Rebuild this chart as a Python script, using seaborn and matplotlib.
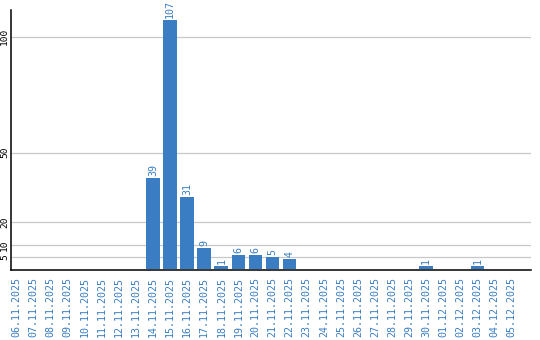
import matplotlib
matplotlib.use("Agg")
import matplotlib.pyplot as plt
import seaborn as sns
import pandas as pd

dates = ["06.11.2025", "07.11.2025", "08.11.2025", "09.11.2025", "10.11.2025",
         "11.11.2025", "12.11.2025", "13.11.2025", "14.11.2025", "15.11.2025",
         "16.11.2025", "17.11.2025", "18.11.2025", "19.11.2025", "20.11.2025",
         "21.11.2025", "22.11.2025", "23.11.2025", "24.11.2025", "25.11.2025",
         "26.11.2025", "27.11.2025", "28.11.2025", "29.11.2025", "30.11.2025",
         "01.12.2025", "02.12.2025", "03.12.2025", "04.12.2025", "05.12.2025"]
counts = [0, 0, 0, 0, 0, 0, 0, 0, 39, 107,
          31, 9, 1, 6, 6, 5, 4, 0, 0, 0,
          0, 0, 0, 0, 1, 0, 0, 1, 0, 0]
yticks = [5, 10, 20, 50, 100]

BLUE = "#3a7dc2"

sns.set_theme(style="white")
plt.rcParams['font.family'] = ['DejaVu Sans Mono', 'DejaVu Sans']

df = pd.DataFrame({"date": dates, "count": counts})

fig = plt.figure(figsize=(5.4, 3.4), dpi=100)
ax = fig.add_axes([11/540, 70/340, 520/540, 260/340])

sns.barplot(data=df, x="date", y="count", color=BLUE, saturation=1,
            width=0.8, ax=ax, zorder=3, linewidth=0, edgecolor="none")

ax.set_xlim(-0.32, 30.14)
ax.set_ylim(-0.6, 111.5)
ax.set_yticks(yticks)
ax.set_yticklabels([str(v) for v in yticks], rotation=90, va="center",
                   fontsize=6.8, color="black")
ax.yaxis.grid(True, color="#c8c8c8", linewidth=0.9, zorder=0)
ax.xaxis.grid(False)
ax.set_axisbelow(True)
ax.tick_params(axis="y", length=0, pad=1.5)
ax.tick_params(axis="x", length=0, pad=5, labelsize=7.2, labelcolor=BLUE,
               rotation=90)
for lbl in ax.get_xticklabels():
    lbl.set_va("top")
    lbl.set_ha("center")

ax.set_xlabel("")
ax.set_ylabel("")

for s in ["top", "right"]:
    ax.spines[s].set_visible(False)
for s in ["left", "bottom"]:
    ax.spines[s].set_color("black")
    ax.spines[s].set_linewidth(1.1)

container = ax.containers[0]
labels = [str(v) if v > 0 else "" for v in counts]
ax.bar_label(container, labels=labels, rotation=90, padding=1.5,
             fontsize=7.2, color=BLUE)

fig.savefig("out.png", dpi=100)
